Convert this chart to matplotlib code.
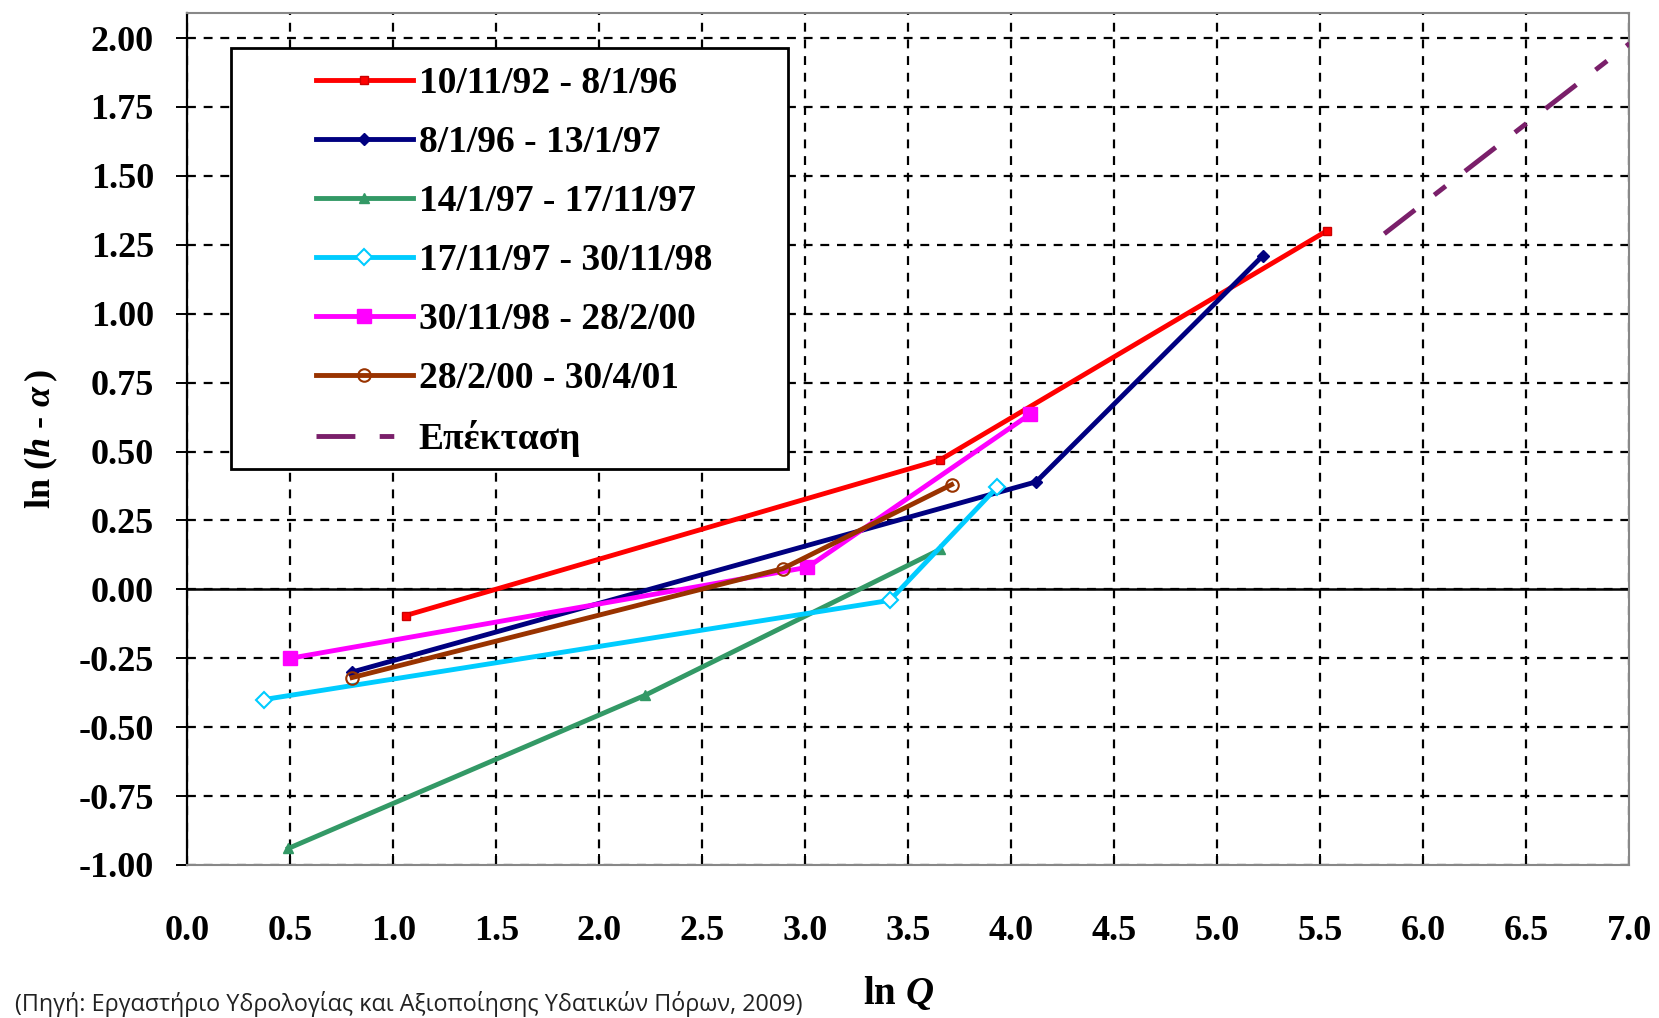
import matplotlib
matplotlib.use("Agg")
import matplotlib.pyplot as plt
from matplotlib.patches import Rectangle
from matplotlib.ticker import FormatStrFormatter, MultipleLocator

plt.rcParams["axes.unicode_minus"] = False
plt.rcParams["mathtext.fontset"] = "custom"
plt.rcParams["mathtext.rm"] = "Liberation Serif"
plt.rcParams["mathtext.bf"] = "Liberation Serif:bold"
plt.rcParams["mathtext.it"] = "Liberation Serif:italic:bold"

# ln Q / ln(h - a) pairs of each rating-curve period
labels = ["10/11/92 - 8/1/96", "8/1/96 - 13/1/97", "14/1/97 - 17/11/97",
          "17/11/97 - 30/11/98", "30/11/98 - 28/2/00", "28/2/00 - 30/4/01"]
x_p1 = [1.06, 3.655, 5.53]
y_p1 = [-0.095, 0.47, 1.30]
x_p2 = [0.80, 4.12, 5.22]
y_p2 = [-0.30, 0.39, 1.21]
x_p3 = [0.49, 2.22, 3.655]
y_p3 = [-0.94, -0.385, 0.145]
x_p4 = [0.37, 3.41, 3.93]
y_p4 = [-0.40, -0.04, 0.37]
x_p5 = [0.50, 3.01, 4.09]
y_p5 = [-0.25, 0.08, 0.635]
x_p6 = [0.80, 2.89, 3.71]
y_p6 = [-0.32, 0.075, 0.38]

# extrapolation of the curve
ext_label = "Επέκταση"
x_ext = [5.81, 7.0]
y_ext = [1.29, 1.98]

xs = [x_p1, x_p2, x_p3, x_p4, x_p5, x_p6]
ys = [y_p1, y_p2, y_p3, y_p4, y_p5, y_p6]

styles = [
    dict(color="#ff0000", marker="s", ms=6, mfc="#ff0000", mec="#cc0000"),
    dict(color="#000080", marker="D", ms=6, mfc="#000080", mec="#000080"),
    dict(color="#339966", marker="^", ms=7, mfc="#339966", mec="#339966"),
    dict(color="#00ccff", marker="D", ms=8, mfc="white", mec="#00ccff", mew=1.5),
    dict(color="#ff00ff", marker="s", ms=10, mfc="#ff00ff", mec="#ff00ff"),
    dict(color="#993300", marker="o", ms=9, mfc="none", mec="#993300", mew=1.5),
]

fig = plt.figure(figsize=(16.59, 10.18), dpi=100)
ax = fig.add_axes([0.1129, 0.1503, 0.8693, 0.8367])

serif = "Liberation Serif"

handles = []
for x, y, lab, st in zip(xs, ys, labels, styles):
    h, = ax.plot(x, y, lw=3.5, label=lab, zorder=3, **st)
    handles.append(h)
h_ext, = ax.plot(x_ext, y_ext, color="#7a1f6a", lw=3.5, dashes=(8, 5, 3, 5),
                 label=ext_label, zorder=3)
handles.append(h_ext)

ax.set_xlim(0, 7.0)
ax.set_ylim(-1.0, 2.09)
ax.xaxis.set_major_locator(MultipleLocator(0.5))
ax.xaxis.set_major_formatter(FormatStrFormatter("%.1f"))
ax.yaxis.set_major_formatter(FormatStrFormatter("%.2f"))
ax.set_yticks([-1.0 + 0.25 * i for i in range(13)])

ax.grid(True, color="black", linestyle=(0, (4, 3.5)), linewidth=1.6, zorder=1)
ax.set_axisbelow(True)
ax.axhline(0.0, color="black", lw=1.8, zorder=2)

for side in ["top", "right", "bottom"]:
    ax.spines[side].set_color("#888888")
    ax.spines[side].set_linewidth(1.5)
ax.spines["left"].set_color("black")
ax.spines["left"].set_linewidth(1.6)

ax.tick_params(axis="x", direction="in", length=8, width=1.4, pad=36,
               labelsize=26)
ax.tick_params(axis="y", direction="out", length=8, width=1.4, pad=16,
               labelsize=26)
for t in ax.get_xticklabels() + ax.get_yticklabels():
    t.set_fontfamily(serif)
    t.set_fontweight("bold")

ax.set_ylabel("$\\mathbf{ln}\\ \\mathbf{(}\\mathit{h}\\ \\mathbf{\u2010}\\ "
              "\\mathit{α}\\,\\mathbf{)}$", fontsize=26)
ax.yaxis.set_label_coords(-0.088, 0.50)
ax.set_xlabel(r"$\mathbf{ln}\ \mathit{Q}$", fontsize=28)
ax.xaxis.set_label_coords(0.4935, -0.128)

# legend frame
ax.add_patch(Rectangle((0.030, 0.4653), 0.3867, 0.4943, transform=ax.transAxes,
                       facecolor="white", edgecolor="black", lw=2.0, zorder=4))
leg = ax.legend(handles=handles, loc="upper left", bbox_to_anchor=(0.076, 0.96),
                frameon=False, handlelength=2.6, handletextpad=0.15,
                labelspacing=0.64, borderpad=0.0,
                prop=dict(family=serif, weight="bold", size=27))
leg.set_zorder(5)

fig.text(0.009, 0.007,
         "(Πηγή: Εργαστήριο Υδρολογίας και Αξιοποίησης Υδατικών Πόρων, 2009)",
         fontsize=16.8, family=["Open Sans", "DejaVu Sans"], va="baseline",
         ha="left", color="#222222")

fig.savefig("out.png", dpi=100, facecolor="white")
